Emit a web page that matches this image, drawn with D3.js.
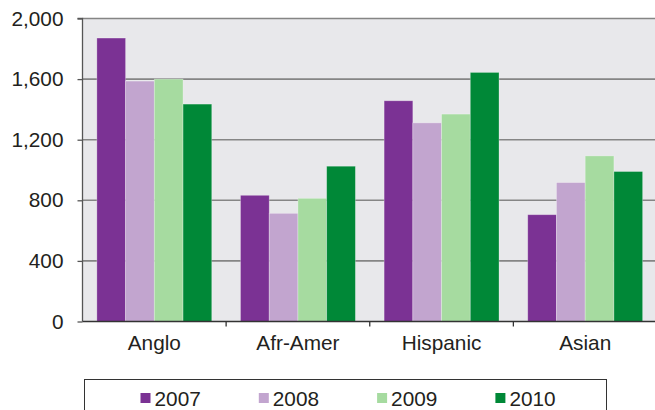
<!DOCTYPE html>
<html><head><meta charset="utf-8">
<script src="https://cdn.jsdelivr.net/npm/d3@7"></script>
<style>body{margin:0;background:#fff}svg{display:block;font-family:"Liberation Sans",Arial,sans-serif}</style>
</head><body>
<svg id="c" width="655" height="410"></svg>
<script>
const categories = ["Anglo", "Afr-Amer", "Hispanic", "Asian"];
const seriesNames = ["2007", "2008", "2009", "2010"];
const v2007 = [1871, 833, 1457, 705];
const v2008 = [1587, 714, 1311, 917];
const v2009 = [1600, 813, 1369, 1093];
const v2010 = [1435, 1025, 1644, 990];
const yTicks = [0, 400, 800, 1200, 1600, 2000];
const colors = ["#7B3294", "#C2A5CF", "#A6DBA0", "#008837"];

const seriesValues = [v2007, v2008, v2009, v2010];
const svg = d3.select("#c");
const L = 82.5, R = 657, T = 18.5, B = 321.5;
const FS = 20.8;

const x = d3.scaleBand().domain(categories).range([L, R]).paddingInner(0).paddingOuter(0);
const xs = d3.scaleBand().domain(seriesNames).range([0, x.bandwidth()]).paddingInner(0).paddingOuter(0.5);
const y = d3.scaleLinear().domain([0, 2000]).range([B, T]);

svg.append("rect").attr("x", L).attr("y", T).attr("width", R - L).attr("height", B - T).attr("fill", "#E8E8EB");

// gridlines
svg.append("g").selectAll("line").data(yTicks.filter(d => d > 0)).join("line")
  .attr("x1", L).attr("x2", R).attr("y1", d => y(d)).attr("y2", d => y(d))
  .attr("stroke", "#858585").attr("stroke-width", 1.6);

// bars
const groups = svg.append("g").selectAll("g").data(categories).join("g")
  .attr("transform", d => `translate(${x(d)},0)`);
groups.selectAll("rect").data((c, i) => seriesNames.map((s, j) => ({s, v: seriesValues[j][i], j})))
  .join("rect")
  .attr("x", d => xs(d.s)).attr("width", xs.bandwidth())
  .attr("y", d => y(d.v)).attr("height", d => B - y(d.v))
  .attr("fill", d => colors[d.j])
  .attr("stroke", "rgba(255,255,255,0.35)").attr("stroke-width", 0.8);

// y axis
const yAxis = d3.axisLeft(y).tickValues(yTicks).tickSize(5).tickPadding(14)
  .tickFormat(d3.format(","));
const gy = svg.append("g").attr("transform", `translate(${L},0)`).call(yAxis);
gy.select(".domain").attr("stroke", "#555").attr("stroke-width", 1.3).attr("d", `M-5,${T}H0V${B}`);
gy.selectAll(".tick line").attr("stroke", "#555").attr("stroke-width", 1.3);
gy.selectAll("text").attr("font-size", FS).attr("fill", "#231F20").attr("font-family", "Liberation Sans, Arial, sans-serif");

// x axis
const gx = svg.append("g").attr("transform", `translate(0,${B})`);
gx.append("line").attr("x1", L).attr("x2", R).attr("y1", 0).attr("y2", 0).attr("stroke", "#333").attr("stroke-width", 1.3);
gx.selectAll("line.t").data(categories).join("line").attr("class", "t")
  .attr("x1", d => x(d) + x.bandwidth()).attr("x2", d => x(d) + x.bandwidth())
  .attr("y1", 0).attr("y2", 5).attr("stroke", "#333").attr("stroke-width", 1.3);
gx.selectAll("text").data(categories).join("text")
  .attr("x", d => x(d) + x.bandwidth() / 2).attr("y", 28.5)
  .attr("text-anchor", "middle").attr("font-size", FS).attr("fill", "#231F20").text(d => d);

// legend
svg.append("rect").attr("x", 84.5).attr("y", 379.5).attr("width", 522).attr("height", 40)
  .attr("fill", "#fff").attr("stroke", "#333").attr("stroke-width", 1);
const lg = svg.append("g").selectAll("g").data(seriesNames).join("g")
  .attr("transform", (d, i) => `translate(${140.5 + i * 118.3},398)`);
lg.append("rect").attr("x", 0).attr("y", -5).attr("width", 10).attr("height", 10).attr("fill", (d, i) => colors[i]);
lg.append("text").attr("x", 14).attr("y", 7.5).attr("font-size", FS).attr("fill", "#231F20").text(d => d);
</script>
</body></html>
